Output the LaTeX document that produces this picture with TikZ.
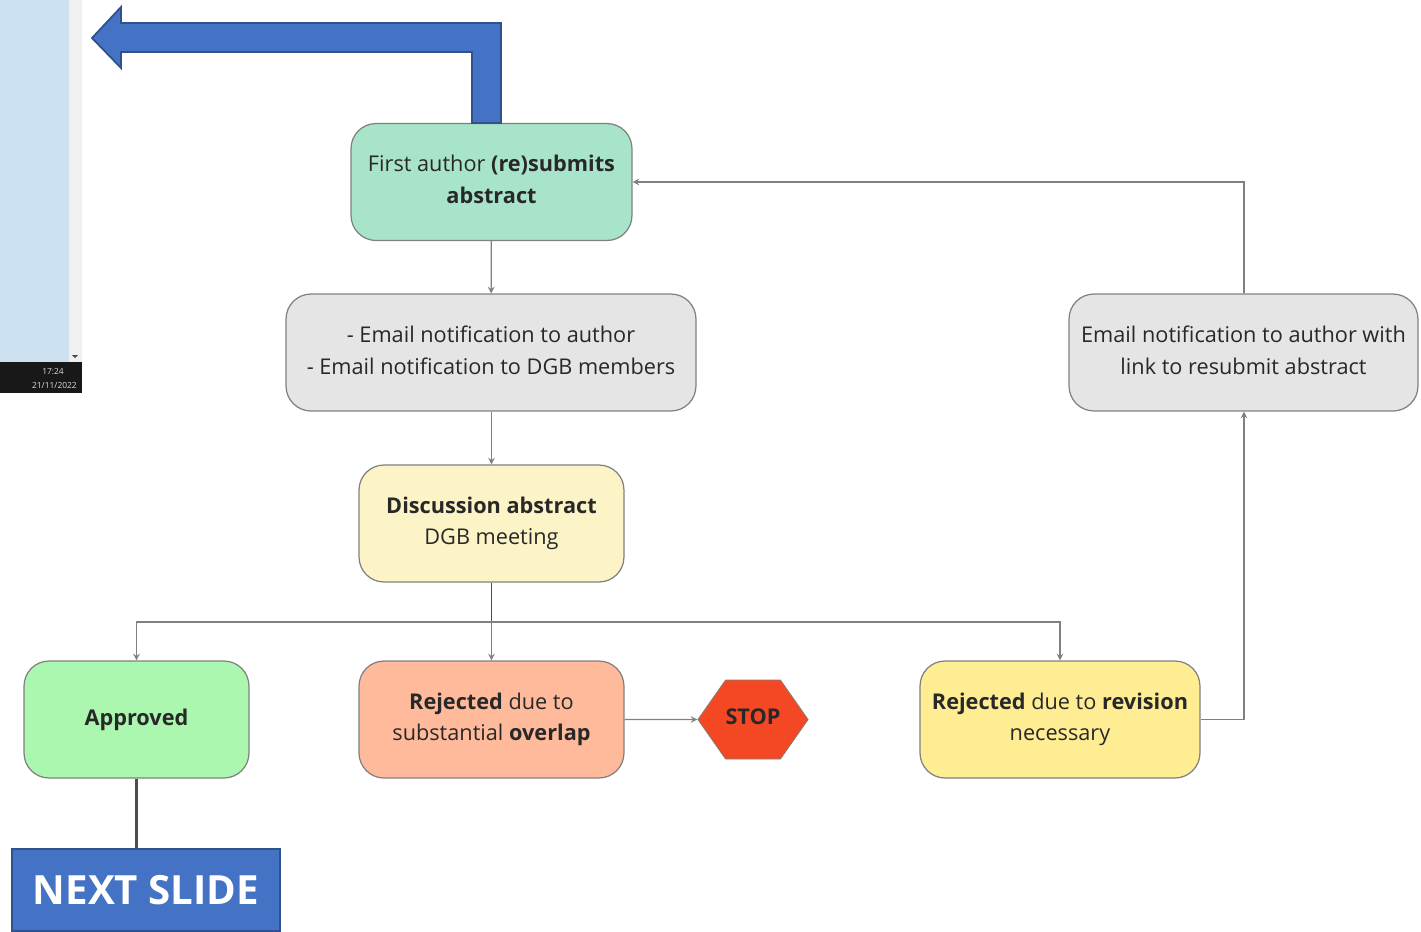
\documentclass[tikz,border=0pt]{standalone}
\usepackage{fontspec}
\setmainfont{Open Sans}
\usepackage{xcolor}
\usetikzlibrary{arrows,shapes,positioning}
\definecolor{dfblue}{RGB}{68,114,196}
\definecolor{dfdarkblue}{RGB}{47,82,143}
\definecolor{dfpanel}{RGB}{204,225,242}
\definecolor{dfscroll}{RGB}{240,240,240}
\definecolor{dfbar}{RGB}{24,24,24}
\definecolor{dfline}{RGB}{128,128,128}
\definecolor{dftext}{RGB}{40,40,40}
\definecolor{dfmint}{RGB}{168,228,201}
\definecolor{dfgrey}{RGB}{229,229,229}
\definecolor{dfcream}{RGB}{252,244,198}
\definecolor{dfgreen}{RGB}{172,247,175}
\definecolor{dforange}{RGB}{255,186,155}
\definecolor{dfyellow}{RGB}{255,237,148}
\definecolor{dfred}{RGB}{244,72,36}
\tikzstyle{arrow} = [line width=0.7pt,->,>=stealth,color=dfline]
\tikzstyle{flowbox} = [rectangle, rounded corners=0.5cm, minimum height=2.34cm, align=center, draw=dfline, line width=0.7pt, text=dftext, font=\fontsize{12.35}{18}\selectfont]
\begin{document}
\begin{tikzpicture}[x=0.02cm, y=-0.02cm]
\useasboundingbox (0, 0) rectangle (1421, 931);

% Screenshot strip
\fill[dfpanel] (0, 0) rectangle (69, 362);
\fill[dfscroll] (69, 0) rectangle (82, 362);
\fill[dfbar] (0, 362) rectangle (82, 393);
\fill[black!70] (72, 355) -- (78, 355) -- (75, 358) -- cycle;
\node[text=white!85!black, font=\fontsize{4.8}{6}\selectfont, anchor=east] (clock) at (70, 371) {17:24};
\node[text=white!85!black, font=\fontsize{4.8}{6}\selectfont, anchor=east] (date) at (83, 385) {21/11/2022};

% Flow boxes
\node[flowbox, fill=dfmint, minimum width=5.62cm] (submit) at (491.5, 182) {First author \textbf{(re)submits}\\\textbf{abstract}\vphantom{g}};
\node[flowbox, fill=dfgrey, minimum width=8.2cm] (notify) at (491, 352.5) {- Email notification to author\\- Email notification to DGB members\vphantom{g}};
\node[flowbox, fill=dfcream, minimum width=5.3cm] (discuss) at (491.5, 523.5) {\textbf{Discussion abstract}\\DGB meeting};
\node[flowbox, fill=dfgreen, minimum width=4.5cm] (approved) at (136.5, 719.5) {\textbf{Approved}};
\node[flowbox, fill=dforange, minimum width=5.3cm] (overlap) at (491.5, 719.5) {\textbf{Rejected} due to\\substantial \textbf{overlap}};
\node[flowbox, fill=dfyellow, minimum width=5.6cm] (revision) at (1060, 719.5) {\textbf{Rejected} due to \textbf{revision}\\necessary};
\node[flowbox, fill=dfgrey, minimum width=6.98cm] (resubmit) at (1243.5, 352.5) {Email notification to author with\\link to resubmit abstract\vphantom{g}};

% Stop sign
\node[signal, signal to=east and west, signal pointer angle=110, draw=dfline, fill=dfred, text=dftext, inner sep=0pt, minimum width=2.2cm, minimum height=1.58cm, font=\fontsize{12.35}{18}\selectfont\bfseries] (stop) at (753, 719.5) {STOP\vphantom{g}};

% Next slide button
\node[rectangle, draw=dfdarkblue, line width=1pt, fill=dfblue, text=white, minimum width=5.36cm, minimum height=1.64cm, font=\fontsize{22.9}{28}\selectfont\bfseries] (next) at (146, 890) {NEXT SLIDE};

% Big back arrow
\draw[draw=dfdarkblue, line width=1pt, fill=dfblue] (submit.north -| 501, 0) -- (501, 23) -- (121, 23) -- (121, 7) -- (92, 38) -- (121, 68) -- (121, 52) -- (472, 52) -- (submit.north -| 472, 0) -- cycle;

% Arrows
\coordinate (split) at (491.5, 622);
\coordinate (turn) at (1244, 719.5);
\draw[arrow] (submit) -- (notify);
\draw[arrow] (notify.south -| discuss.north) -- (discuss);
\draw[line width=1.1pt, color=dfline!60!black] (discuss) -- (split);
\draw[arrow] (split) -| (approved.north);
\draw[arrow] (split) -- (overlap);
\draw[arrow] (split) -| (revision.north);
\draw[arrow] (overlap) -- (stop);
\draw[arrow] (revision) -- (turn) -- (turn |- resubmit.south);
\draw[arrow] (turn |- resubmit.north) |- (submit);
\draw[line width=1.5pt, color=dfline!60!black] (approved) -- (next.north -| approved);
\end{tikzpicture}
\end{document}
